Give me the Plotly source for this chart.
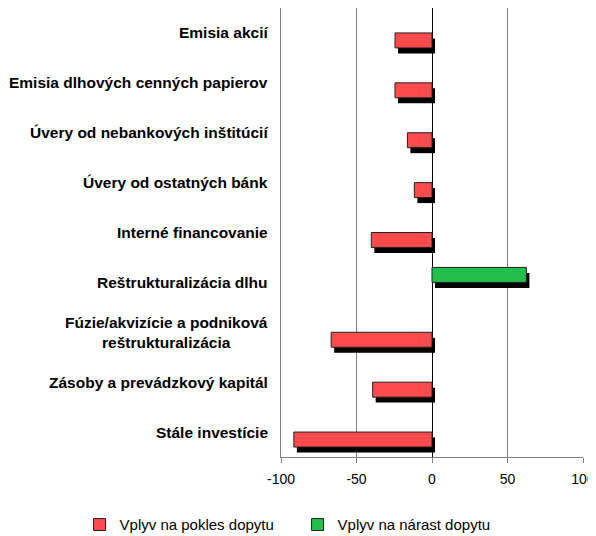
import plotly.graph_objects as go

categories = ['Emisia akcií',
              'Emisia dlhových cenných papierov',
              'Úvery od nebankových inštitúcií',
              'Úvery od ostatných bánk',
              'Interné financovanie',
              'Reštrukturalizácia dlhu',
              'Fúzie/akvizície a podniková<br>reštrukturalizácia',
              'Zásoby a prevádzkový kapitál',
              'Stále investície']

pokles = [-24.5, -24.5, -16.3, -11.7, -40.2, None, -66.8, -39.3, -91.5]
narast = [None, None, None, None, None, 62.5, None, None, None]

x_ticks = [-100, -50, 0, 50, 100]
x_labels = ['-100', '-50', '0', '50', '100']

FONT = 'Liberation Sans, Arial, sans-serif'
shift = 2  # shadow shift to the right, in axis units

shadow_red = go.Bar(y=categories, x=pokles, base=shift, orientation='h',
                    offset=-0.41, width=0.3, marker=dict(color='black', line=dict(width=0)),
                    showlegend=False, hoverinfo='skip')
shadow_green = go.Bar(y=categories, x=narast, base=shift, orientation='h',
                      offset=-0.11, width=0.3, marker=dict(color='black', line=dict(width=0)),
                      showlegend=False, hoverinfo='skip')
trace1 = go.Bar(y=categories, x=pokles, orientation='h', name='Vplyv na pokles dopytu',
                offset=-0.3, width=0.3,
                marker=dict(color='#FF4B4B', line=dict(color='#222222', width=1)))
trace2 = go.Bar(y=categories, x=narast, orientation='h', name='Vplyv na nárast dopytu',
                offset=0, width=0.3,
                marker=dict(color='#22BF4C', line=dict(color='#222222', width=1)))

fig = go.Figure(data=[shadow_red, shadow_green, trace1, trace2])

for cat in categories:
    fig.add_annotation(x=0, xref='paper', xanchor='right', xshift=-11,
                       y=cat, yref='y', text=cat, showarrow=False, align='center',
                       font=dict(family=FONT, size=15.5, color='black', weight='bold'))

# the page body has an 8px margin, so the figure is a bit smaller than the window
fig.update_layout(
    width=588, height=528,
    barmode='overlay',
    paper_bgcolor='white', plot_bgcolor='white',
    margin=dict(l=273, r=13, t=0, b=79, autoexpand=False),
    font=dict(family=FONT, size=14, color='black'),
    xaxis=dict(range=[-100, 100], tickvals=x_ticks, ticktext=x_labels,
               automargin=False, ticklabelstandoff=4,
               showgrid=True, gridcolor='#808080', gridwidth=1,
               zeroline=True, zerolinecolor='black', zerolinewidth=1,
               showline=True, linecolor='#808080', linewidth=1,
               ticks='outside', ticklen=5, tickcolor='#808080',
               tickfont=dict(size=14)),
    yaxis=dict(categoryorder='array', categoryarray=categories[::-1],
               range=[-0.5, 8.5], showticklabels=False, showgrid=False,
               automargin=False,
               showline=True, linecolor='#808080', linewidth=1, ticks=''),
    legend=dict(orientation='h', x=-0.667, y=-0.151, xanchor='left', yanchor='middle',
                font=dict(size=15), entrywidth=173, entrywidthmode='pixels',
                traceorder='normal'),
)

fig.write_html("out.html")
